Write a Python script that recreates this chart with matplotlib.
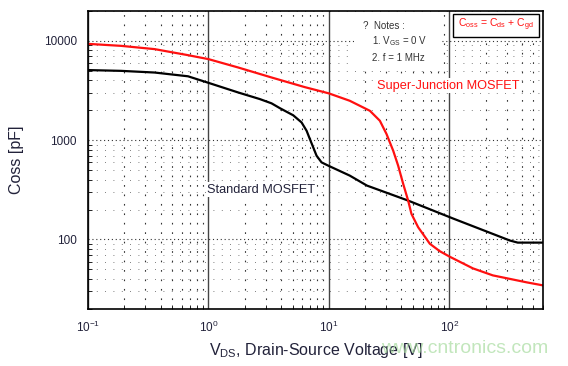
import numpy as np
import matplotlib
matplotlib.use("Agg")
import matplotlib.pyplot as plt
from matplotlib.patches import Rectangle

plt.rcParams['font.family'] = ['Liberation Sans', 'DejaVu Sans']
plt.rcParams['mathtext.fontset'] = 'custom'
plt.rcParams['mathtext.rm'] = 'Liberation Sans'
plt.rcParams['mathtext.it'] = 'Liberation Sans'

# Standard MOSFET, Coss vs Vds
std_v = [0.1, 0.188, 0.357, 0.676, 1.0, 1.77, 2.67, 3.34, 3.92, 5.06, 5.93, 6.53, 6.95,
         7.41, 7.90, 8.69, 9.88, 14.9, 20.7, 45.3, 107, 318, 370, 600]
std_c = [5080, 4990, 4800, 4400, 3780, 3020, 2594, 2350, 2100, 1780, 1510, 1245, 1027,
         848, 698, 598, 554, 440, 349, 247, 163, 97.7, 93, 93]

# Super-Junction MOSFET
sj_v = [0.1, 0.188, 0.357, 0.676, 1.0, 1.77, 3.34, 6.32, 10, 14.9, 21.9, 26.5, 30.1,
        34.2, 37.6, 41.4, 45.5, 48.5, 55.1, 68.9, 83.4, 101, 157, 230, 440, 600]
sj_c = [9330, 8910, 8260, 7180, 6550, 5390, 4280, 3420, 2960, 2494, 1977, 1570, 1154,
        784, 554, 363, 247, 181, 133, 90.6, 76.2, 67, 51.2, 43.5, 37, 34.5]

txt_col = '#22223a'

fig = plt.figure(figsize=(5.68, 3.66), dpi=100)
ax = fig.add_axes([0.155, 0.156, 0.801, 0.814])
ax.set_xscale('log')
ax.set_yscale('log')
ax.set_xlim(0.1, 600)
ax.set_ylim(20, 20000)

# grid
ax.grid(which='major', axis='x', color='#444444', lw=1.0, ls='-')
ax.grid(which='major', axis='y', color='#333333', lw=0.8, ls=(0, (1, 2.5)))
ax.grid(which='minor', axis='x', color='#333333', lw=0.8, ls=(0, (1.5, 7)))
ax.grid(which='minor', axis='y', color='#555555', lw=0.6, ls=(0, (1, 9)))
ax.set_axisbelow(True)

ax.plot(std_v, std_c, color='black', lw=1.6, solid_joinstyle='round')
ax.plot(sj_v, sj_c, color='#ff1010', lw=1.6, solid_joinstyle='round')

ax.text(2.73, 316, 'Standard MOSFET', fontsize=9.2, color=txt_col, ha='center', va='center',
        bbox=dict(facecolor='white', edgecolor='none', pad=1))
ax.text(25.0, 3530, 'Super-Junction MOSFET', fontsize=9.2, color='#ff1010', ha='left', va='center',
        bbox=dict(facecolor='white', edgecolor='none', pad=1))

# notes
ax.add_patch(Rectangle((0.585, 0.82), 0.19, 0.17, transform=ax.transAxes,
                       facecolor='white', edgecolor='none', zorder=3))
ax.text(0.604, 0.950, '?  Notes :', transform=ax.transAxes, fontsize=7,
        color='#333333', va='center', zorder=4)
ax.text(0.624, 0.900, '1. V$_{GS}$ = 0 V', transform=ax.transAxes, fontsize=7,
        color='#333333', va='center', zorder=4)
ax.text(0.624, 0.842, '2. f = 1 MHz', transform=ax.transAxes, fontsize=7,
        color='#333333', va='center', zorder=4)

ax.add_patch(Rectangle((0.802, 0.913), 0.189, 0.077, transform=ax.transAxes,
                       facecolor='white', edgecolor='black', lw=1.0, zorder=3))
ax.text(0.8965, 0.952, 'C$_{oss}$ = C$_{ds}$ + C$_{gd}$', transform=ax.transAxes,
        fontsize=7.5, color='#ff1010', ha='center', va='center', zorder=4)

for s in ax.spines.values():
    s.set_linewidth(1.2)
    s.set_color('black')

ax.tick_params(which='major', length=0, labelsize=8.5, labelcolor=txt_col, pad=8)
ax.tick_params(which='minor', direction='in', length=3, top=False, right=False,
               labelleft=False, labelbottom=False)
ax.set_yticks([100, 1000, 10000])
ax.set_yticklabels(['100', '1000', '10000'])

ax.set_ylabel('Coss [pF]', fontsize=11.5, color=txt_col, labelpad=14)
ax.set_xlabel('V$_{DS}$, Drain-Source Voltage [V]', fontsize=11.5, color=txt_col, labelpad=4)

fig.text(0.965, 0.047, 'www.cntronics.com', fontsize=14, color='#a8dca0', alpha=0.7,
         ha='right', va='center')

fig.savefig('out.png', dpi=100)
